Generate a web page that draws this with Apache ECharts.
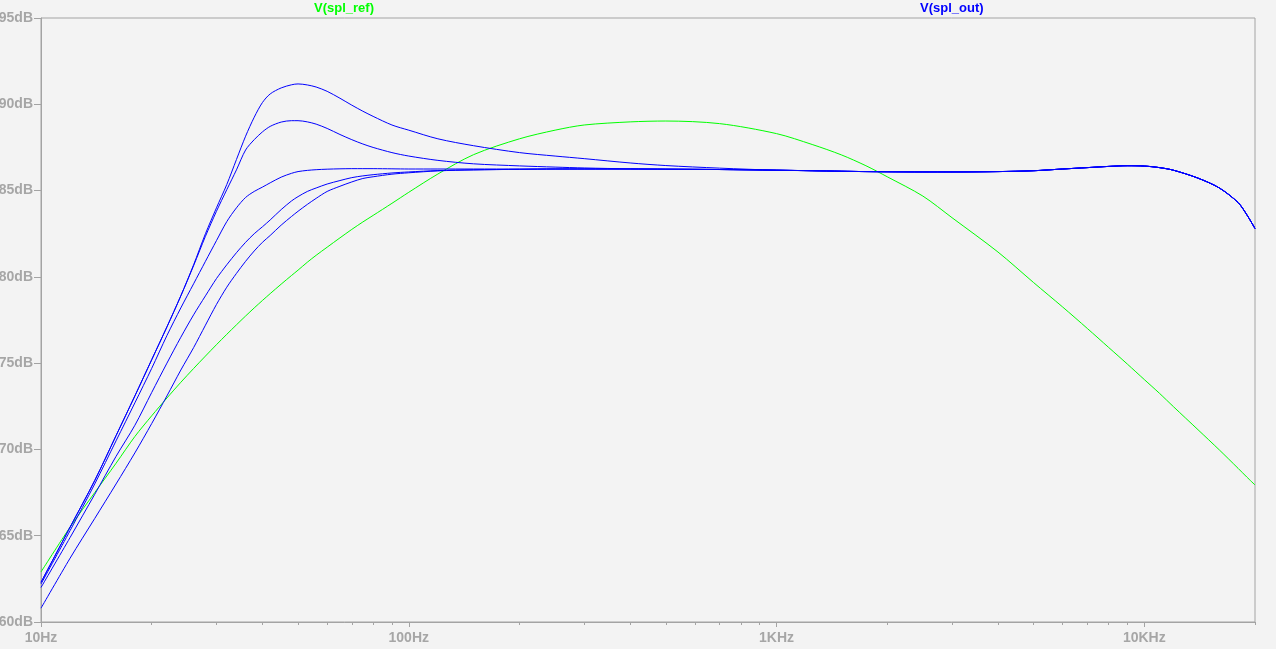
<!DOCTYPE html>
<html><head><meta charset="utf-8">
<script src="https://cdn.jsdelivr.net/npm/echarts@6/dist/echarts.min.js"></script>
<style>html,body{margin:0;padding:0;background:#f3f3f3}#c{width:1276px;height:649px}</style>
</head><body><div id="c"></div>
<script>
// Frequency points (Hz)
const FREQ = [10, 12, 14, 16, 18, 20, 22, 24, 26, 28, 30, 32, 34, 36, 38, 40, 42, 45, 48, 50,
  53, 56, 60, 65, 70, 75, 80, 90, 100, 120, 150, 200, 250, 300, 400, 500, 700,
  1000, 1250, 1500, 1750, 2000, 2500, 3000, 4000, 5000, 6000, 7000, 8000, 9000, 10000,
  11000, 12000, 14000, 16000, 18000, 19000, 20000];

// V(spl_ref) in dB
const SPL_REF = [62.9, 65.5, 67.5, 69.2, 70.75, 71.95, 72.98, 73.89, 74.69, 75.41, 76.07, 76.67, 77.22, 77.73, 78.2, 78.63, 79.03, 79.58, 80.08, 80.39,
  80.85, 81.25, 81.72, 82.26, 82.75, 83.18, 83.56, 84.26, 84.9, 85.96, 87.08, 88.0, 88.5, 88.8, 88.98, 89.03, 88.88,
  88.3, 87.67, 87.07, 86.44, 85.8, 84.68, 83.43, 81.44, 79.67, 78.25, 77.01, 75.91, 74.94, 74.05,
  73.25, 72.48, 71.14, 69.97, 68.9, 68.4, 67.94];

// V(spl_out) parameter sweep, dB
const OUT_1 = [62.3, 65.5, 68.2, 70.8, 73.1, 75.2, 77.1, 78.9, 80.7, 82.5, 84.0, 85.35, 86.8, 88.15, 89.25, 90.1, 90.6, 90.95, 91.13, 91.18,
  91.12, 91.0, 90.75, 90.35, 89.95, 89.6, 89.3, 88.8, 88.5, 88.0, 87.6, 87.2, 87.0, 86.85, 86.6, 86.45, 86.3,
  86.18, 86.15, 86.12, 86.1, 86.09, 86.08, 86.08, 86.1, 86.15, 86.25, 86.33, 86.4, 86.44, 86.42,
  86.33, 86.18, 85.72, 85.15, 84.3, 83.6, 82.8];
const OUT_2 = [62.3, 65.5, 68.2, 70.8, 73.1, 75.2, 77.1, 78.9, 80.65, 82.35, 83.8, 85.05, 86.2, 87.35, 87.95, 88.4, 88.72, 88.97, 89.05, 89.05,
  88.98, 88.85, 88.6, 88.25, 87.95, 87.7, 87.5, 87.2, 87.0, 86.75, 86.55, 86.43, 86.36, 86.31, 86.26, 86.24, 86.22,
  86.18, 86.15, 86.12, 86.1, 86.09, 86.08, 86.08, 86.1, 86.15, 86.25, 86.33, 86.4, 86.44, 86.42,
  86.33, 86.18, 85.72, 85.15, 84.3, 83.6, 82.8];
const OUT_3 = [62.2, 65.3, 68.0, 70.5, 72.7, 74.7, 76.6, 78.2, 79.6, 80.9, 82.1, 83.2, 84.0, 84.6, 84.95, 85.2, 85.45, 85.78, 86.0, 86.1,
  86.17, 86.21, 86.24, 86.26, 86.27, 86.27, 86.27, 86.26, 86.25, 86.25, 86.25, 86.25, 86.25, 86.25, 86.25, 86.24, 86.22,
  86.18, 86.15, 86.12, 86.1, 86.09, 86.08, 86.08, 86.1, 86.15, 86.25, 86.33, 86.4, 86.44, 86.42,
  86.33, 86.18, 85.72, 85.15, 84.3, 83.6, 82.8];
const OUT_4 = [62.0, 64.9, 67.4, 69.6, 71.4, 73.3, 75.0, 76.5, 77.8, 78.9, 79.9, 80.7, 81.4, 82.0, 82.5, 82.9, 83.3, 83.9, 84.4, 84.65,
  84.95, 85.15, 85.38, 85.58, 85.75, 85.85, 85.92, 86.02, 86.08, 86.16, 86.2, 86.23, 86.25, 86.25, 86.25, 86.24, 86.22,
  86.18, 86.15, 86.12, 86.1, 86.09, 86.08, 86.08, 86.1, 86.15, 86.25, 86.33, 86.4, 86.44, 86.42,
  86.33, 86.18, 85.72, 85.15, 84.3, 83.6, 82.8];
const OUT_5 = [60.8, 63.7, 66.0, 68.0, 69.8, 71.5, 73.1, 74.6, 75.9, 77.2, 78.4, 79.4, 80.2, 80.9, 81.5, 82.0, 82.4, 83.0, 83.5, 83.8,
  84.2, 84.55, 84.95, 85.25, 85.5, 85.7, 85.8, 85.95, 86.03, 86.14, 86.2, 86.23, 86.25, 86.25, 86.25, 86.24, 86.22,
  86.18, 86.15, 86.12, 86.1, 86.09, 86.08, 86.08, 86.1, 86.15, 86.25, 86.33, 86.4, 86.44, 86.42,
  86.33, 86.18, 85.72, 85.15, 84.3, 83.6, 82.8];

// Axis ticks
const Y_TICKS = [60, 65, 70, 75, 80, 85, 90, 95];
const X_LABELS = [10, 100, 1000, 10000];
const X_LABEL_TEXT = ['10Hz', '100Hz', '1KHz', '10KHz'];
const X_MINOR = [20, 30, 40, 50, 60, 70, 80, 90, 200, 300, 400, 500, 600, 700, 800, 900,
  2000, 3000, 4000, 5000, 6000, 7000, 8000, 9000, 20000];

const AXIS_COLOR = '#a3a3a3';
const LABEL_COLOR = '#a6a6a6';
const FONT = 'Liberation Sans, Arial, sans-serif';

const pairs = arr => FREQ.map((f, i) => [f, arr[i]]);
const blueSeries = [OUT_1, OUT_2, OUT_3, OUT_4, OUT_5].map(a => ({
  name: 'V(spl_out)', type: 'line', data: pairs(a), showSymbol: false, smooth: 0.3,
  lineStyle: { color: '#0000ff', width: 1 }, itemStyle: { color: '#0000ff' }, silent: true
}));

const chart = echarts.init(document.getElementById('c'));
chart.setOption({
  animation: false,
  backgroundColor: '#f3f3f3',
  grid: { left: 41, right: 21, top: 18, bottom: 27, show: true, borderColor: AXIS_COLOR, borderWidth: 1,
    backgroundColor: 'transparent', outerBoundsMode: 'none', containLabel: false },
  xAxis: [{
    type: 'log', logBase: 10, min: 10, max: 20000,
    axisLine: { show: true, lineStyle: { color: AXIS_COLOR, width: 1 } },
    axisTick: { show: true, customValues: X_MINOR, length: 3, lineStyle: { color: AXIS_COLOR } },
    axisLabel: {
      customValues: X_LABELS, margin: 9, color: LABEL_COLOR, fontFamily: FONT, fontWeight: 'bold', fontSize: 14,
      formatter: v => { const i = X_LABELS.indexOf(Math.round(v)); return i >= 0 ? X_LABEL_TEXT[i] : ''; }
    },
    splitLine: { show: false }, minorTick: { show: false }
  }, {
    type: 'log', logBase: 10, min: 10, max: 20000, position: 'bottom', offset: 0,
    axisLine: { show: false },
    axisTick: { show: true, customValues: X_LABELS, length: 5, lineStyle: { color: AXIS_COLOR } },
    axisLabel: { show: false }, splitLine: { show: false }
  }],
  yAxis: {
    type: 'value', min: 60, max: 95, interval: 5,
    axisLine: { show: true, lineStyle: { color: AXIS_COLOR, width: 1 } },
    axisTick: { show: true, length: 7, lineStyle: { color: AXIS_COLOR } },
    axisLabel: { margin: 8, color: LABEL_COLOR, fontFamily: FONT, fontWeight: 'bold', fontSize: 14, formatter: v => Y_TICKS.includes(v) ? v + 'dB' : '' },
    splitLine: { show: false }
  },
  graphic: [
    { type: 'text', left: 314, top: 2, style: { text: 'V(spl_ref)', fill: '#00ff00', font: 'bold 13px ' + FONT } },
    { type: 'text', left: 920, top: 2, style: { text: 'V(spl_out)', fill: '#0000ff', font: 'bold 13px ' + FONT } }
  ],
  series: [{
    name: 'V(spl_ref)', type: 'line', data: pairs(SPL_REF), showSymbol: false, smooth: 0.3,
    lineStyle: { color: '#00ff00', width: 1 }, itemStyle: { color: '#00ff00' }, silent: true
  }].concat(blueSeries)
});
</script></body></html>
